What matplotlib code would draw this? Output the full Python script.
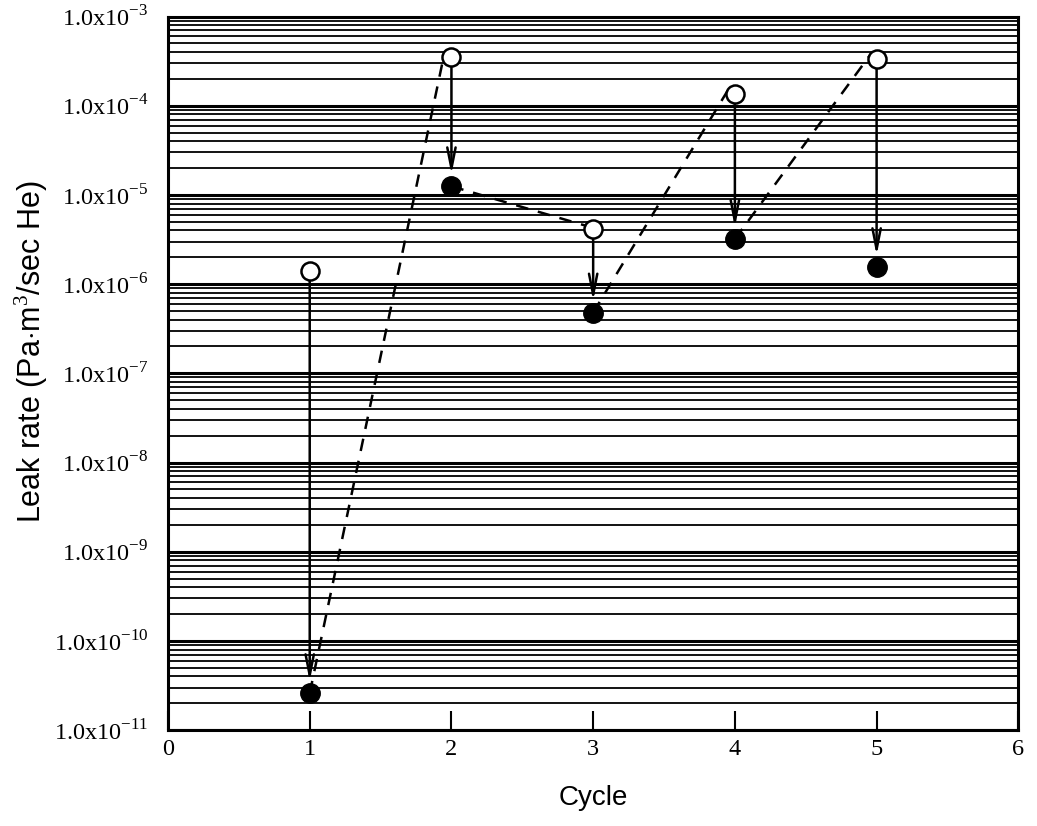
"""Leak rate before/after each thermal cycle."""

import matplotlib.pyplot as plt
import numpy as np

cycles = [1, 2, 3, 4, 5]
leak_before = [1.4e-6, 3.5e-4, 4.1e-6, 1.35e-4, 3.3e-4]
leak_after = [2.6e-11, 1.25e-5, 4.8e-7, 3.2e-6, 1.55e-6]

decades = np.arange(-11, -2)
ytick_labels = ["1.0x10$^{\\mathrm{-%d}}$" % -d for d in decades]

plt.rcParams["mathtext.fontset"] = "custom"
plt.rcParams["mathtext.rm"] = "Liberation Serif"

fig = plt.figure(figsize=(10.37, 8.26), dpi=100)
ax = fig.add_axes([0.162, 0.116, 0.820, 0.864])
ax.set_yscale("log")
ax.set_xlim(0, 6)
ax.set_ylim(1e-11, 1e-3)

# dense horizontal rules at every log tick
for d in decades[:-1]:
    for m in range(1, 10):
        lw = 2.2 if m == 1 else 1.3
        ax.axhline(m * 10.0**d, color="black", lw=lw, zorder=1)

# dashed path: after cycle n -> before cycle n+1
for i in range(len(cycles) - 1):
    ax.plot([cycles[i], cycles[i + 1] - 0.05], [leak_after[i], leak_before[i + 1] * 1.1],
            ls=(0, (5, 4)), color="black", lw=1.8, zorder=2)

# arrows from before to after
for x, yb, ya in zip(cycles, leak_before, leak_after):
    ax.annotate("", xy=(x, ya * 1.35), xytext=(x, yb * 0.8),
                arrowprops=dict(arrowstyle="->,head_length=1.5,head_width=0.3",
                                color="black", lw=1.8, shrinkA=0, shrinkB=0),
                zorder=3)

ax.plot(cycles, leak_before, "o", mfc="white", mec="black", mew=1.8, ms=13, zorder=4)
ax.plot(cycles, leak_after, "o", color="black", ms=14, zorder=4)

ax.set_yticks(10.0**decades)
ax.set_yticklabels(ytick_labels, family="Liberation Serif", fontsize=17.5)
ax.yaxis.set_minor_locator(plt.NullLocator())
ax.tick_params(axis="y", length=0, pad=14)
ax.set_xticks(range(7))
ax.set_xticklabels([str(i) for i in range(7)], family="Liberation Serif", fontsize=17.5)
ax.tick_params(axis="x", direction="in", length=14, width=1.5, pad=6)

for s in ax.spines.values():
    s.set_linewidth(2.2)

ax.set_xlabel("Cycle", family="Liberation Sans", fontsize=20, labelpad=18)
ax.set_ylabel("Leak rate (Pa$\\cdot$m$^3$/sec He)", family="Liberation Sans",
              fontsize=22)
ax.yaxis.set_label_coords(-0.139, 0.53)

fig.savefig("out.png", dpi=100)
